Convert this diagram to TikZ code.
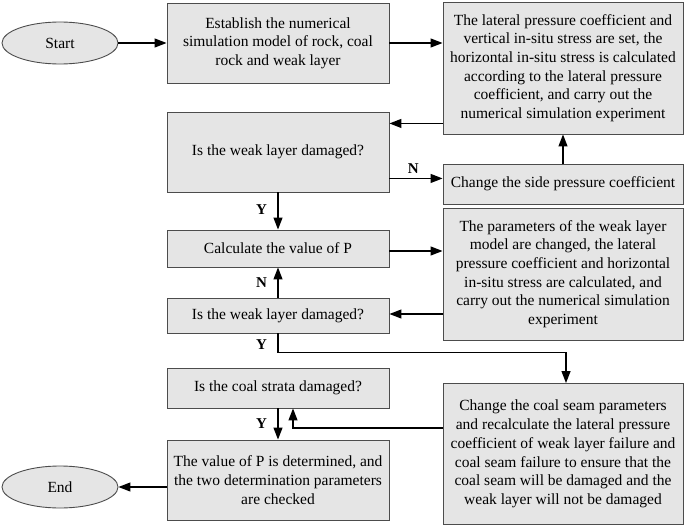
\documentclass[tikz,border=0pt]{standalone}
\usepackage{fontspec}
\setmainfont{Liberation Serif}
\usetikzlibrary{shapes.geometric,arrows.meta}
\begin{document}
\begin{tikzpicture}[x=1pt,y=-1pt,
  box/.style={draw=black!70, fill=black!10, line width=.9pt, align=center, inner sep=0pt, minimum width=222pt, font=\fontsize{15.5}{18.7}\selectfont},
  rbox/.style={box, minimum width=240pt},
  oval/.style={draw=black!70, fill=black!10, ellipse, line width=.9pt, inner sep=0pt, minimum width=116pt, minimum height=42pt, font=\fontsize{15.5}{18.7}\selectfont},
  arr/.style={line width=1.2pt, -{Triangle[length=12pt,width=9pt]}},
  yn/.style={font=\fontsize{15}{15}\selectfont\bfseries}]
\useasboundingbox (0,0) rectangle (685,527);

\node (0) at (60,43) [oval] {Start};
\node (1) at (278,43) [box, minimum height=80pt] {Establish the numerical\\simulation model of rock, coal\\rock and weak layer};
\node (2) at (563,68) [rbox, minimum height=132pt] {The lateral pressure coefficient and\\vertical in-situ stress are set, the\\horizontal in-situ stress is calculated\\according to the lateral pressure\\coefficient, and carry out the\\numerical simulation experiment};
\node (3) at (278,152) [box, minimum height=80pt] {Is the weak layer damaged?};
\node (4) at (563,184) [rbox, minimum height=40pt] {Change the side pressure coefficient};
\node (5) at (278,248.5) [box, minimum height=37pt] {Calculate the value of P};
\node (6) at (563,274) [rbox, minimum height=132pt] {The parameters of the weak layer\\model are changed, the lateral\\pressure coefficient and horizontal\\in-situ stress are calculated, and\\carry out the numerical simulation\\experiment};
\node (7) at (278,315.5) [box, minimum height=35pt] {Is the weak layer damaged?};
\node (8) at (563,454) [rbox, minimum height=141pt] {Change the coal seam parameters\\and recalculate the lateral pressure\\coefficient of weak layer failure and\\coal seam failure to ensure that the\\coal seam will be damaged and the\\weak layer will not be damaged};
\node (9) at (278,388) [box, minimum height=40pt] {Is the coal strata damaged?};
\node (10) at (278,480) [box, minimum height=80pt] {The value of P is determined, and\\the two determination parameters\\are checked};
\node (11) at (60,487) [oval] {End};

\draw[arr] (0) -- (1);
\draw[arr] (1.east) -- (1.east -| 2.west);
\draw[arr] ([yshift=11pt]2.south west) coordinate (a) -- (a -| 3.east);
\draw[arr] (4.north) -- (2.south);
\draw[arr] ([yshift=14pt]3.south east) coordinate (b) -- node[yn, above=1pt, pos=.45] {N} (b -| 4.west);
\draw[arr] (3.south) -- node[yn, left=7pt, pos=.45] {Y} (5.north);
\draw[arr] ([yshift=-2.5pt]5.east) coordinate (c) -- (c -| 6.west);
\draw[arr] ([yshift=1.5pt]7.east -| 6.west) coordinate (e) -- (e -| 7.east);
\draw[arr] (7.north) -- node[yn, left=7pt] {N} (5.south);
\draw[arr] (7.south) -- node[yn, left=7pt, pos=.6] {Y} ++(0,19) -| ([xshift=3pt]8.north);
\draw[arr] (9.south) -- node[yn, left=7pt, pos=.5] {Y} (10.north);
\draw[arr] ([yshift=26pt]8.west) -| ([xshift=15pt]9.south);
\draw[arr] (10.west |- 11) -- (11);
\end{tikzpicture}
\end{document}
